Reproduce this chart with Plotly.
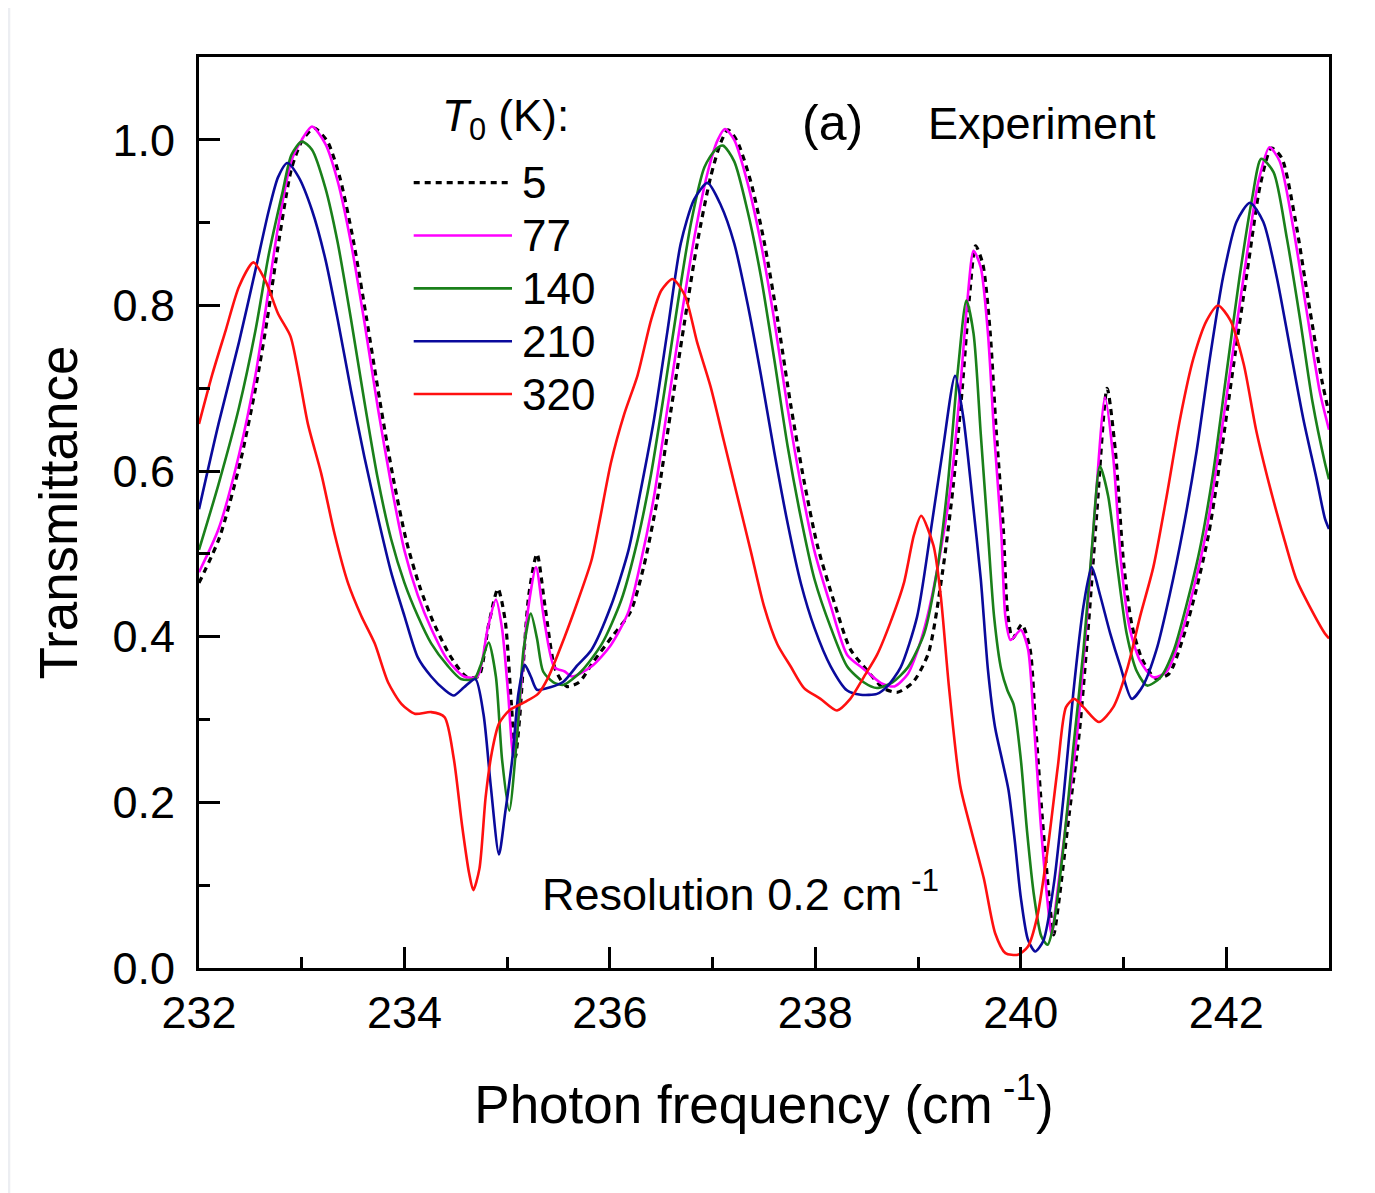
import plotly.graph_objects as go

# T0 = 5 K (dashed black)
x_5 = [232.0, 232.2, 232.4, 232.55, 232.66, 232.78, 232.9, 233.0, 233.12, 233.25, 233.37, 233.5, 233.63,
       233.76, 233.89, 234.02, 234.15, 234.28, 234.44, 234.6, 234.72, 234.82, 234.91, 234.98, 235.04, 235.08,
       235.12, 235.21, 235.29, 235.37, 235.47, 235.58, 235.7, 235.84, 236.02, 236.2, 236.33, 236.46, 236.59,
       236.72, 236.85, 236.98, 237.08, 237.15, 237.24, 237.37, 237.5, 237.63, 237.76, 237.89, 238.02, 238.18,
       238.34, 238.5, 238.66, 238.8, 238.95, 239.1, 239.24, 239.34, 239.43, 239.5, 239.56, 239.63, 239.7,
       239.76, 239.83, 239.87, 239.92, 240.01, 240.09, 240.14, 240.21, 240.28, 240.32, 240.37, 240.47, 240.57,
       240.66, 240.74, 240.84, 240.92, 241.0, 241.08, 241.18, 241.31, 241.44, 241.57, 241.7, 241.83, 241.96,
       242.09, 242.22, 242.33, 242.44, 242.54, 242.67, 242.8, 242.93, 243.0]
t_5 = [0.465, 0.52, 0.61, 0.70, 0.78, 0.88, 0.965, 0.998, 1.014, 0.998, 0.955, 0.88, 0.785,
       0.685, 0.592, 0.515, 0.46, 0.418, 0.378, 0.352, 0.352, 0.415, 0.458, 0.42, 0.32, 0.255,
       0.3, 0.45, 0.50, 0.435, 0.36, 0.34, 0.345, 0.37, 0.40, 0.43, 0.485, 0.565, 0.67,
       0.775, 0.875, 0.955, 0.997, 1.012, 0.998, 0.95, 0.878, 0.785, 0.68, 0.588, 0.51, 0.443,
       0.385, 0.36, 0.338, 0.333, 0.345, 0.38, 0.48, 0.58, 0.70, 0.81, 0.872, 0.85, 0.77,
       0.65, 0.53, 0.43, 0.398, 0.415, 0.385, 0.3, 0.18, 0.08, 0.04, 0.08, 0.185, 0.285,
       0.417, 0.55, 0.70, 0.625, 0.49, 0.415, 0.373, 0.35, 0.355, 0.395, 0.453, 0.525, 0.63,
       0.745, 0.855, 0.945, 0.99, 0.978, 0.905, 0.805, 0.71, 0.67]

# T0 = 77 K
x_77 = [232.0, 232.19, 232.39, 232.55, 232.65, 232.77, 232.9, 233.0, 233.1, 233.23, 233.35, 233.48, 233.61,
        233.74, 233.87, 234.0, 234.13, 234.26, 234.42, 234.58, 234.71, 234.81, 234.89, 234.95, 235.01, 235.06,
        235.1, 235.2, 235.28, 235.36, 235.46, 235.56, 235.63, 235.82, 236.01, 236.18, 236.3, 236.43, 236.56,
        236.69, 236.82, 236.95, 237.05, 237.12, 237.21, 237.34, 237.47, 237.6, 237.73, 237.86, 237.99, 238.15,
        238.31, 238.47, 238.64, 238.77, 238.9, 239.0, 239.09, 239.22, 239.32, 239.41, 239.48, 239.54, 239.61,
        239.68, 239.74, 239.81, 239.85, 239.9, 240.0, 240.07, 240.12, 240.19, 240.26, 240.3, 240.35, 240.45,
        240.55, 240.64, 240.72, 240.82, 240.9, 240.98, 241.06, 241.16, 241.29, 241.42, 241.55, 241.68, 241.81,
        241.94, 242.07, 242.2, 242.31, 242.42, 242.52, 242.65, 242.78, 242.91, 243.0]
t_77 = [0.478, 0.53, 0.62, 0.716, 0.796, 0.895, 0.975, 1.0, 1.016, 0.995, 0.95, 0.875, 0.78,
        0.677, 0.584, 0.504, 0.45, 0.41, 0.372, 0.352, 0.352, 0.41, 0.445, 0.41, 0.33, 0.255,
        0.29, 0.43, 0.484, 0.42, 0.363, 0.358, 0.352, 0.364, 0.39, 0.43, 0.49, 0.57, 0.676,
        0.782, 0.881, 0.96, 1.0, 1.013, 1.0, 0.948, 0.875, 0.782, 0.676, 0.583, 0.504, 0.437,
        0.378, 0.361, 0.344, 0.34, 0.355, 0.385, 0.424, 0.504, 0.585, 0.70, 0.806, 0.866, 0.846,
        0.766, 0.645, 0.525, 0.424, 0.396, 0.408, 0.385, 0.31, 0.18, 0.08, 0.04, 0.086, 0.185,
        0.285, 0.417, 0.55, 0.689, 0.616, 0.484, 0.41, 0.371, 0.351, 0.358, 0.398, 0.457, 0.53,
        0.636, 0.749, 0.861, 0.948, 0.991, 0.974, 0.895, 0.795, 0.696, 0.65]

# T0 = 140 K
x_140 = [232.0, 232.19, 232.39, 232.55, 232.68, 232.81, 232.9, 233.0, 233.1, 233.23, 233.35, 233.48, 233.61,
         233.74, 233.87, 234.0, 234.13, 234.26, 234.42, 234.55, 234.68, 234.74, 234.82, 234.89, 234.95, 235.02,
         235.1, 235.16, 235.23, 235.29, 235.35, 235.45, 235.55, 235.72, 235.92, 236.11, 236.27, 236.4, 236.53,
         236.66, 236.79, 236.92, 237.02, 237.1, 237.21, 237.34, 237.47, 237.6, 237.73, 237.86, 237.99, 238.15,
         238.31, 238.47, 238.6, 238.75, 238.9, 239.06, 239.19, 239.29, 239.39, 239.47, 239.54, 239.61, 239.68,
         239.74, 239.81, 239.87, 239.93, 240.0, 240.06, 240.13, 240.2, 240.26, 240.32, 240.42, 240.51, 240.61,
         240.69, 240.77, 240.85, 240.94, 241.03, 241.13, 241.23, 241.36, 241.49, 241.61, 241.74, 241.87, 242.0,
         242.13, 242.25, 242.34, 242.46, 242.59, 242.72, 242.84, 242.96, 243.0]
t_140 = [0.505, 0.584, 0.677, 0.77, 0.862, 0.935, 0.982, 0.998, 0.988, 0.942, 0.876, 0.783, 0.684,
         0.591, 0.518, 0.465, 0.425, 0.392, 0.365, 0.349, 0.349, 0.365, 0.393, 0.352, 0.252, 0.19,
         0.286, 0.385, 0.428, 0.398, 0.358, 0.345, 0.342, 0.358, 0.391, 0.444, 0.517, 0.596, 0.696,
         0.802, 0.9, 0.967, 0.987, 0.993, 0.974, 0.914, 0.835, 0.735, 0.63, 0.543, 0.47, 0.411,
         0.364, 0.345, 0.338, 0.345, 0.363, 0.404, 0.484, 0.585, 0.725, 0.806, 0.766, 0.645, 0.525,
         0.424, 0.36, 0.335, 0.318, 0.252, 0.166, 0.086, 0.038, 0.028, 0.053, 0.152, 0.265, 0.384,
         0.504, 0.606, 0.57, 0.484, 0.404, 0.358, 0.341, 0.351, 0.384, 0.437, 0.504, 0.596, 0.716,
         0.835, 0.928, 0.977, 0.961, 0.881, 0.782, 0.683, 0.61, 0.59]

# T0 = 210 K
x_210 = [232.0, 232.19, 232.39, 232.55, 232.68, 232.77, 232.86, 232.97, 233.1, 233.23, 233.35, 233.48, 233.61,
         233.74, 233.87, 234.0, 234.13, 234.26, 234.39, 234.48, 234.58, 234.69, 234.77, 234.84, 234.92, 234.98,
         235.05, 235.11, 235.17, 235.23, 235.29, 235.42, 235.55, 235.68, 235.82, 236.01, 236.18, 236.3, 236.43,
         236.56, 236.69, 236.82, 236.95, 237.08, 237.21, 237.34, 237.47, 237.6, 237.73, 237.86, 237.99, 238.15,
         238.31, 238.44, 238.6, 238.7, 238.83, 238.99, 239.12, 239.24, 239.36, 239.44, 239.53, 239.61, 239.68,
         239.75, 239.82, 239.88, 239.94, 240.0, 240.07, 240.14, 240.22, 240.32, 240.42, 240.51, 240.61, 240.69,
         240.77, 240.87, 240.97, 241.08, 241.19, 241.32, 241.45, 241.58, 241.71, 241.84, 241.97, 242.1, 242.23,
         242.36, 242.49, 242.62, 242.75, 242.88, 242.96, 243.0]
t_210 = [0.554, 0.657, 0.756, 0.843, 0.915, 0.955, 0.972, 0.955, 0.915, 0.856, 0.783, 0.697, 0.617,
         0.545, 0.478, 0.425, 0.375, 0.352, 0.336, 0.329, 0.339, 0.349, 0.306, 0.22, 0.137, 0.187,
         0.253, 0.332, 0.366, 0.352, 0.336, 0.339, 0.346, 0.365, 0.384, 0.437, 0.504, 0.577, 0.663,
         0.769, 0.875, 0.928, 0.948, 0.921, 0.875, 0.802, 0.716, 0.623, 0.537, 0.464, 0.411, 0.364,
         0.335, 0.33, 0.331, 0.34, 0.363, 0.424, 0.525, 0.625, 0.715, 0.665, 0.565, 0.47, 0.36,
         0.29, 0.25, 0.215, 0.155, 0.085, 0.034, 0.02, 0.033, 0.1, 0.212, 0.331, 0.437, 0.484,
         0.451, 0.404, 0.364, 0.325, 0.341, 0.384, 0.451, 0.53, 0.623, 0.736, 0.835, 0.901, 0.924,
         0.901, 0.835, 0.749, 0.663, 0.59, 0.543, 0.53]

# T0 = 320 K
x_320 = [232.0, 232.13, 232.26, 232.39, 232.53, 232.65, 232.77, 232.89, 232.97, 233.06, 233.19, 233.32, 233.45,
         233.58, 233.71, 233.84, 233.97, 234.1, 234.26, 234.39, 234.48, 234.56, 234.63, 234.67, 234.73, 234.79,
         234.85, 234.92, 235.02, 235.17, 235.3, 235.4, 235.56, 235.69, 235.82, 235.9, 236.01, 236.14, 236.27,
         236.4, 236.5, 236.61, 236.73, 236.85, 236.98, 237.11, 237.24, 237.37, 237.5, 237.63, 237.76, 237.89,
         238.05, 238.21, 238.34, 238.47, 238.6, 238.73, 238.86, 238.96, 239.03, 239.15, 239.22, 239.3, 239.41,
         239.52, 239.64, 239.75, 239.85, 239.97, 240.07, 240.16, 240.26, 240.36, 240.44, 240.52, 240.61, 240.76,
         240.9, 241.04, 241.16, 241.29, 241.42, 241.55, 241.68, 241.81, 241.92, 242.04, 242.17, 242.29, 242.42,
         242.55, 242.68, 242.81, 242.96, 243.0]
t_320 = [0.657, 0.717, 0.77, 0.823, 0.852, 0.829, 0.79, 0.763, 0.717, 0.657, 0.597, 0.524, 0.465,
         0.425, 0.392, 0.345, 0.319, 0.307, 0.309, 0.303, 0.253, 0.173, 0.114, 0.094, 0.12, 0.206,
         0.26, 0.295, 0.311, 0.321, 0.331, 0.351, 0.40, 0.444, 0.492, 0.54, 0.61, 0.669, 0.716,
         0.782, 0.818, 0.832, 0.812, 0.755, 0.702, 0.636, 0.57, 0.504, 0.437, 0.391, 0.364, 0.338,
         0.325, 0.311, 0.325, 0.351, 0.378, 0.417, 0.464, 0.523, 0.546, 0.51, 0.45, 0.34, 0.22,
         0.165, 0.108, 0.042, 0.018, 0.016, 0.026, 0.062, 0.142, 0.243, 0.315, 0.325, 0.315, 0.297,
         0.315, 0.363, 0.424, 0.484, 0.57, 0.663, 0.736, 0.782, 0.80, 0.782, 0.729, 0.65, 0.583,
         0.524, 0.47, 0.437, 0.404, 0.398]

series = [
    ("5", x_5, t_5, "black", "6px,5px", 3.2),
    ("77", x_77, t_77, "#ff00ff", "solid", 2.6),
    ("140", x_140, t_140, "#1a801a", "solid", 2.6),
    ("210", x_210, t_210, "#0a0a9c", "solid", 2.6),
    ("320", x_320, t_320, "#ff1010", "solid", 2.6),
]

FONT = "Arial, Liberation Sans, sans-serif"

fig = go.Figure()
for name, xs, ys, col, dash, w in series:
    fig.add_trace(go.Scatter(x=xs, y=ys, mode="lines", name=name,
                             line=dict(color=col, width=w, dash=dash, shape="spline", smoothing=0.7)))

# white card on grey page
fig.add_shape(type="rect", xref="paper", yref="paper", x0=-0.167, x1=1.037, y0=-0.3, y1=1.06,
              fillcolor="white", line_width=0, layer="below")

# hand-made legend (long line samples like the original)
leg_y = [0.862, 0.804, 0.746, 0.688, 0.630]
for (name, xs, ys, col, dash, w), ly in zip(series, leg_y):
    fig.add_shape(type="line", xref="paper", yref="paper", x0=0.190, x1=0.277, y0=ly, y1=ly,
                  line=dict(color=col, width=w, dash=dash))
    fig.add_annotation(xref="paper", yref="paper", x=0.284, y=ly, text=name, showarrow=False,
                       xanchor="left", yanchor="middle", font=dict(size=44, color="black", family=FONT))

fig.add_annotation(xref="paper", yref="paper", x=0.213, y=0.932, text="<i>T</i><sub>0</sub> (K):",
                   showarrow=False, xanchor="left", yanchor="middle", font=dict(size=44, color="black", family=FONT))
fig.add_annotation(xref="paper", yref="paper", x=0.561, y=0.928, text="(a)", showarrow=False,
                   xanchor="center", yanchor="middle", font=dict(size=50, color="black", family=FONT))
fig.add_annotation(xref="paper", yref="paper", x=0.643, y=0.927, text="Experiment", showarrow=False,
                   xanchor="left", yanchor="middle", font=dict(size=45, color="black", family=FONT))
fig.add_annotation(xref="paper", yref="paper", x=0.302, y=0.085, text="Resolution 0.2 cm<sup> -1</sup>",
                   showarrow=False, xanchor="left", yanchor="middle", font=dict(size=45, color="black", family=FONT))

axis_common = dict(showline=True, linecolor="black", linewidth=3, mirror=True, ticks="inside",
                   ticklen=21, tickwidth=2.5, tickcolor="black", showgrid=False, zeroline=False,
                   tickfont=dict(size=45, color="black", family=FONT))

fig.update_xaxes(range=[232, 243], tick0=232, dtick=2, ticklabelstandoff=3,
                 minor=dict(dtick=1, ticks="inside", ticklen=11, tickwidth=2.5, tickcolor="black"),
                 title=dict(text="Photon frequency (cm<sup> -1</sup>)", standoff=49,
                            font=dict(size=53, color="black", family=FONT)),
                 **axis_common)
fig.update_yaxes(range=[0, 1.1], tick0=0, dtick=0.2, tickformat=".1f", ticklabelstandoff=12,
                 minor=dict(dtick=0.1, ticks="inside", ticklen=11, tickwidth=2.5, tickcolor="black"),
                 title=dict(text="Transmittance", standoff=18,
                            font=dict(size=53, color="black", family=FONT)),
                 **axis_common)

fig.update_layout(width=1367, height=1185, showlegend=False,
                  margin=dict(l=191, r=46, t=49, b=225),
                  paper_bgcolor="#eceef2", plot_bgcolor="white",
                  font=dict(family=FONT, color="black"))

fig.write_html("out.html")
